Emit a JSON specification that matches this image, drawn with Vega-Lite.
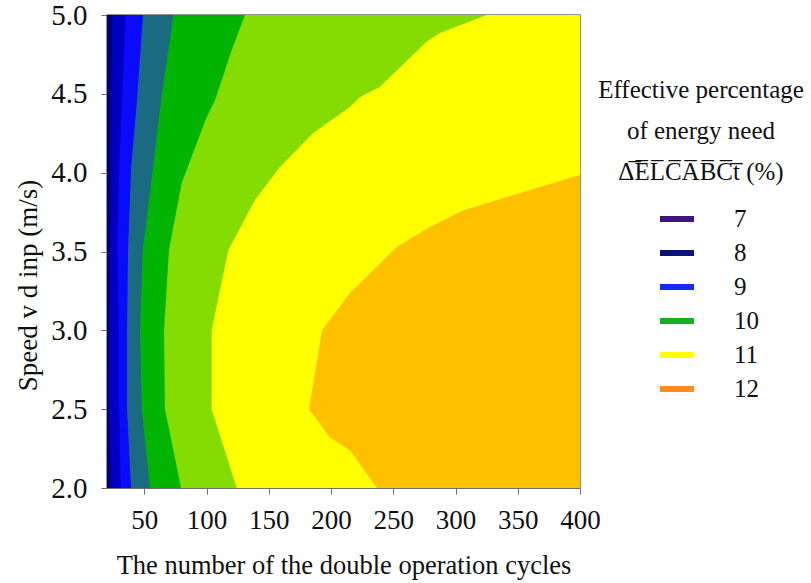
{
  "$schema": "https://vega.github.io/schema/vega-lite/v6.json",
  "width": 473,
  "height": 473,
  "autosize": {"type": "none"},
  "padding": {"left": 107, "top": 15, "right": 231, "bottom": 95},
  "background": "white",
  "config": {
    "font": "Liberation Serif",
    "view": {"stroke": "#707070", "strokeWidth": 1.5},
    "axis": {
      "grid": false,
      "domainColor": "#707070",
      "tickColor": "#707070",
      "tickSize": 6,
      "labelColor": "#111111",
      "labelFont": "Liberation Serif",
      "labelFontSize": 27,
      "titleFont": "Liberation Serif",
      "titleFontSize": 26.5,
      "titleFontWeight": "normal",
      "titleColor": "#111111"
    }
  },
  "datasets": {
    "bands": [
      {"b": "O", "y": 2.0, "x": 400},
      {"b": "O", "y": 5.0, "x": 400},
      {"b": "Y", "y": 2.0, "x": 236.9},
      {"b": "Y", "y": 2.24, "x": 215.2},
      {"b": "Y", "y": 2.32, "x": 199.2},
      {"b": "Y", "y": 2.5, "x": 182.3},
      {"b": "Y", "y": 3.0, "x": 192.7},
      {"b": "Y", "y": 3.237, "x": 215.2},
      {"b": "Y", "y": 3.53, "x": 253},
      {"b": "Y", "y": 3.655, "x": 279.5},
      {"b": "Y", "y": 3.76, "x": 306},
      {"b": "Y", "y": 3.89, "x": 359.8},
      {"b": "Y", "y": 3.985, "x": 400},
      {"b": "Y", "y": 5.0, "x": 400},
      {"b": "LG", "y": 2.0, "x": 124.2},
      {"b": "LG", "y": 2.5, "x": 104.1},
      {"b": "LG", "y": 3.0, "x": 104.1},
      {"b": "LG", "y": 3.51, "x": 117.5},
      {"b": "LG", "y": 3.827, "x": 138.9},
      {"b": "LG", "y": 4.036, "x": 159},
      {"b": "LG", "y": 4.25, "x": 185.5},
      {"b": "LG", "y": 4.416, "x": 215.2},
      {"b": "LG", "y": 4.48, "x": 223.3},
      {"b": "LG", "y": 4.545, "x": 239.3},
      {"b": "LG", "y": 4.83, "x": 276.8},
      {"b": "LG", "y": 4.886, "x": 287.5},
      {"b": "LG", "y": 5.0, "x": 325},
      {"b": "G", "y": 2.0, "x": 79.5},
      {"b": "G", "y": 2.5, "x": 66.6},
      {"b": "G", "y": 3.0, "x": 65.8},
      {"b": "G", "y": 3.51, "x": 69.8},
      {"b": "G", "y": 3.934, "x": 80},
      {"b": "G", "y": 4.353, "x": 100.1},
      {"b": "G", "y": 4.46, "x": 106.8},
      {"b": "G", "y": 4.778, "x": 120.2},
      {"b": "G", "y": 5.0, "x": 130.9},
      {"b": "T", "y": 2.0, "x": 54.5},
      {"b": "T", "y": 2.5, "x": 47.9},
      {"b": "T", "y": 3.0, "x": 46.5},
      {"b": "T", "y": 3.51, "x": 48.7},
      {"b": "T", "y": 4.036, "x": 57},
      {"b": "T", "y": 4.46, "x": 63.4},
      {"b": "T", "y": 5.0, "x": 73.3},
      {"b": "B", "y": 2.0, "x": 39.3},
      {"b": "B", "y": 2.5, "x": 36.1},
      {"b": "B", "y": 3.0, "x": 36.1},
      {"b": "B", "y": 3.51, "x": 36.9},
      {"b": "B", "y": 4.02, "x": 39.3},
      {"b": "B", "y": 4.46, "x": 44.1},
      {"b": "B", "y": 5.0, "x": 48.9},
      {"b": "DB", "y": 2.0, "x": 31},
      {"b": "DB", "y": 2.56, "x": 29.6},
      {"b": "DB", "y": 3.0, "x": 29.6},
      {"b": "DB", "y": 3.51, "x": 28.3},
      {"b": "DB", "y": 4.02, "x": 29.6},
      {"b": "DB", "y": 5.0, "x": 35},
      {"b": "N", "y": 2.0, "x": 23},
      {"b": "N", "y": 2.56, "x": 21.6},
      {"b": "N", "y": 3.0, "x": 21.8},
      {"b": "N", "y": 3.51, "x": 22.4},
      {"b": "N", "y": 4.02, "x": 23},
      {"b": "N", "y": 5.0, "x": 24.3}
    ],
    "levels": [
      {"level": "7"}, {"level": "8"}, {"level": "9"},
      {"level": "10"}, {"level": "11"}, {"level": "12"}
    ]
  },
  "encoding": {
    "y": {
      "field": "y", "type": "quantitative",
      "scale": {"domain": [2, 5], "nice": false, "zero": false},
      "axis": {"values": [2, 2.5, 3, 3.5, 4, 4.5, 5], "format": ".1f", "title": "Speed v d inp (m/s)", "labelFontSize": 29, "labelPadding": 14, "titleFontSize": 27, "titlePadding": 8, "titleY": 270, "labelFlush": false}
    },
    "x": {
      "field": "x", "type": "quantitative",
      "scale": {"domain": [20, 400], "nice": false, "zero": false},
      "axis": {"values": [50, 100, 150, 200, 250, 300, 350, 400], "title": "The number of the double operation cycles", "labelPadding": 13, "titlePadding": 19, "labelFlush": false, "labelOverlap": false}
    }
  },
  "layer": [
    {"data": {"name": "bands"}, "transform": [{"filter": "datum.b === 'O'"}], "mark": {"type": "area", "orient": "horizontal", "color": "#ffc000", "clip": true}, "encoding": {"x2": {"datum": 20}}},
    {"data": {"name": "bands"}, "transform": [{"filter": "datum.b === 'Y'"}], "mark": {"type": "area", "orient": "horizontal", "color": "#ffff00", "clip": true}, "encoding": {"x2": {"datum": 20}}},
    {"data": {"name": "bands"}, "transform": [{"filter": "datum.b === 'LG'"}], "mark": {"type": "area", "orient": "horizontal", "color": "#84dc00", "clip": true}, "encoding": {"x2": {"datum": 20}}},
    {"data": {"name": "bands"}, "transform": [{"filter": "datum.b === 'G'"}], "mark": {"type": "area", "orient": "horizontal", "color": "#00b400", "clip": true}, "encoding": {"x2": {"datum": 20}}},
    {"data": {"name": "bands"}, "transform": [{"filter": "datum.b === 'T'"}], "mark": {"type": "area", "orient": "horizontal", "color": "#1a6a82", "clip": true}, "encoding": {"x2": {"datum": 20}}},
    {"data": {"name": "bands"}, "transform": [{"filter": "datum.b === 'B'"}], "mark": {"type": "area", "orient": "horizontal", "color": "#0a0aff", "clip": true}, "encoding": {"x2": {"datum": 20}}},
    {"data": {"name": "bands"}, "transform": [{"filter": "datum.b === 'DB'"}], "mark": {"type": "area", "orient": "horizontal", "color": "#0000c4", "clip": true}, "encoding": {"x2": {"datum": 20}}},
    {"data": {"name": "bands"}, "transform": [{"filter": "datum.b === 'N'"}], "mark": {"type": "area", "orient": "horizontal", "color": "#00007a", "clip": true}, "encoding": {"x2": {"datum": 20}}},
    {
      "data": {"name": "levels"},
      "mark": {"type": "point", "shape": "stroke", "opacity": 0},
      "encoding": {
        "x": {"datum": 200},
        "y": {"datum": 3},
        "stroke": {
          "field": "level", "type": "nominal",
          "scale": {"domain": ["7", "8", "9", "10", "11", "12"], "range": ["#3d1580", "#0a1478", "#1428ff", "#14b020", "#ffff00", "#ff8c1a"]},
          "legend": {
            "orient": "none",
            "legendX": 491,
            "legendY": 63,
            "title": ["Effective percentage", "of energy need", "Δ̅E̅L̅C̅A̅B̅C̅t̅ (%)"],
            "titleFont": "Liberation Serif",
            "titleFontSize": 25,
            "titleFontWeight": "normal",
            "titleColor": "#111111",
            "titleLineHeight": 41,
            "titleLimit": 400,
            "titleAlign": "center",
            "titleAnchor": "middle",
            "titlePadding": 14,
            "symbolType": "stroke",
            "symbolSize": 1156,
            "symbolStrokeWidth": 6,
            "symbolOpacity": 1,
            "symbolOffset": 15,
            "labelFont": "Liberation Serif",
            "labelFontSize": 25,
            "labelColor": "#111111",
            "labelOffset": 37,
            "rowPadding": 1
          }
        }
      }
    }
  ]
}
